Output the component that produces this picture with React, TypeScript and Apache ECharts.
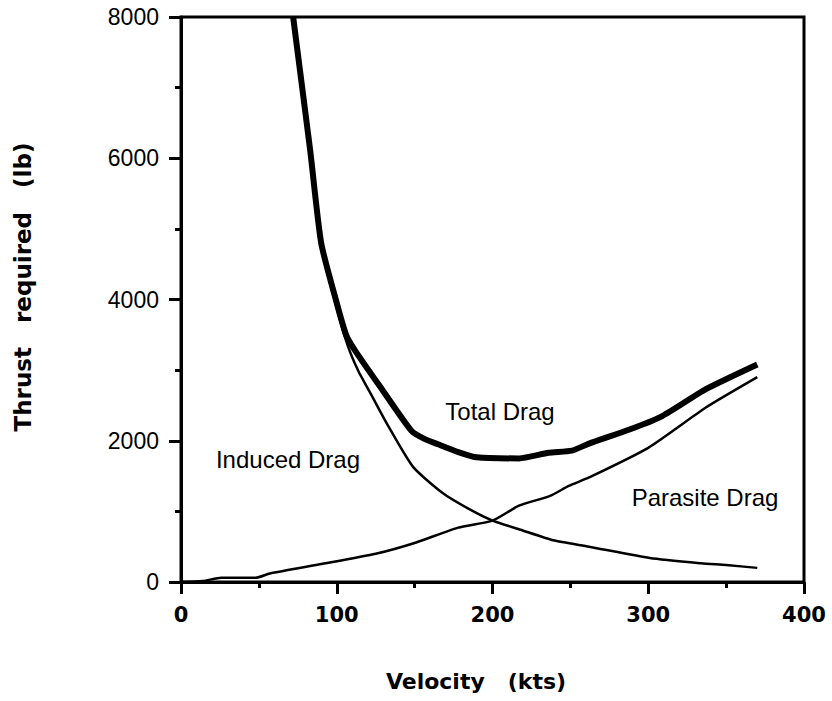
import React, { useEffect, useRef } from "react";
import * as echarts from "echarts";

// Velocity (kts) and thrust (lb) readings per curve
const totalVel = [72, 83, 90, 100, 106, 112, 129, 148, 156, 165, 178, 190, 217, 236, 251, 262, 288, 309, 337, 370];
const totalThrust = [8000, 6100, 4800, 3950, 3500, 3270, 2730, 2140, 2030, 1950, 1840, 1765, 1750, 1830, 1860, 1960, 2160, 2350, 2730, 3080];

const inducedVel = [72, 83, 90, 100, 107, 114, 121, 132, 149, 168, 186, 200, 218, 239, 262, 301, 334, 350, 370];
const inducedThrust = [8000, 6100, 4780, 3880, 3350, 2980, 2700, 2250, 1630, 1260, 1020, 870, 740, 590, 500, 340, 265, 240, 200];

const parasiteVel = [0, 14, 26, 48, 57, 89, 125, 151, 178, 200, 217, 237, 249, 262, 300, 337, 370];
const parasiteThrust = [0, 15, 60, 60, 120, 250, 400, 560, 770, 870, 1080, 1220, 1360, 1480, 1900, 2470, 2900];

const xTicks = [0, 100, 200, 300, 400];
const yTicks = [0, 2000, 4000, 6000, 8000];

const curveLabels = ["Total Drag", "Induced Drag", "Parasite Drag"];
const xTitle = "Velocity   (kts)";
const yTitle = "Thrust   required   (lb)";

const zip = (xs: number[], ys: number[]) => xs.map((x, i) => [x, ys[i]]);

export default function App() {
  const ref = useRef<HTMLDivElement>(null);
  useEffect(() => {
    if (!ref.current) return;
    const chart = echarts.init(ref.current, null, { renderer: "svg" });
    const labelFont = "'Liberation Sans', Arial, sans-serif";
    const boldFont = "'DejaVu Sans', sans-serif";
    const lineBase = {
      type: "line",
      showSymbol: false,
      smooth: 0.2,
      clip: true,
    };
    chart.setOption({
      animation: false,
      backgroundColor: "#fff",
      grid: {
        left: 181,
        right: 28,
        top: 17,
        bottom: 119,
        show: true,
        borderColor: "#000",
        borderWidth: 3,
      },
      xAxis: {
        type: "value",
        min: xTicks[0],
        max: xTicks[xTicks.length - 1],
        interval: 100,
        axisLine: { show: true, lineStyle: { color: "#000", width: 3 } },
        axisTick: { show: true, inside: false, length: 12, lineStyle: { color: "#000", width: 3 } },
        minorTick: { show: true, splitNumber: 2, length: 6, lineStyle: { color: "#000", width: 3 } },
        splitLine: { show: false },
        axisLabel: {
          margin: 22,
          color: "#000",
          fontFamily: boldFont,
          fontWeight: "bold",
          fontSize: 21,
          formatter: (v: number) => String(v),
        },
      },
      yAxis: {
        type: "value",
        min: yTicks[0],
        max: yTicks[yTicks.length - 1],
        interval: 2000,
        axisLine: { show: true, lineStyle: { color: "#000", width: 3 } },
        axisTick: { show: true, inside: false, length: 12, lineStyle: { color: "#000", width: 3 } },
        minorTick: { show: true, splitNumber: 2, length: 6, lineStyle: { color: "#000", width: 3 } },
        splitLine: { show: false },
        axisLabel: {
          margin: 22,
          color: "#000",
          fontFamily: labelFont,
          fontSize: 23,
          formatter: (v: number) => String(v),
        },
      },
      series: [
        {
          ...lineBase,
          name: "Total Drag",
          data: zip(totalVel, totalThrust),
          lineStyle: { color: "#000", width: 6 },
        },
        {
          ...lineBase,
          name: "Induced Drag",
          data: zip(inducedVel, inducedThrust),
          lineStyle: { color: "#000", width: 2.5 },
        },
        {
          ...lineBase,
          name: "Parasite Drag",
          data: zip(parasiteVel, parasiteThrust),
          lineStyle: { color: "#000", width: 2.5 },
        },
      ],
      graphic: [
        {
          type: "text",
          x: 500,
          y: 411,
          style: { text: curveLabels[0], fill: "#000", font: `24px ${labelFont}`, align: "center", verticalAlign: "middle" },
        },
        {
          type: "text",
          x: 288,
          y: 459,
          style: { text: curveLabels[1], fill: "#000", font: `24px ${labelFont}`, align: "center", verticalAlign: "middle" },
        },
        {
          type: "text",
          x: 705,
          y: 497,
          style: { text: curveLabels[2], fill: "#000", font: `24px ${labelFont}`, align: "center", verticalAlign: "middle" },
        },
        {
          type: "text",
          x: 476,
          y: 681,
          style: { text: xTitle, fill: "#000", font: `bold 22px ${boldFont}`, align: "center", verticalAlign: "middle" },
        },
        {
          type: "text",
          x: 23,
          y: 287,
          rotation: Math.PI / 2,
          style: { text: yTitle, fill: "#000", font: `bold 23px ${boldFont}`, align: "center", verticalAlign: "middle" },
        },
      ],
    });
    return () => chart.dispose();
  }, []);
  return <div ref={ref} style={{ width: 832, height: 701, position: "absolute", left: 0, top: 0 }} />;
}
